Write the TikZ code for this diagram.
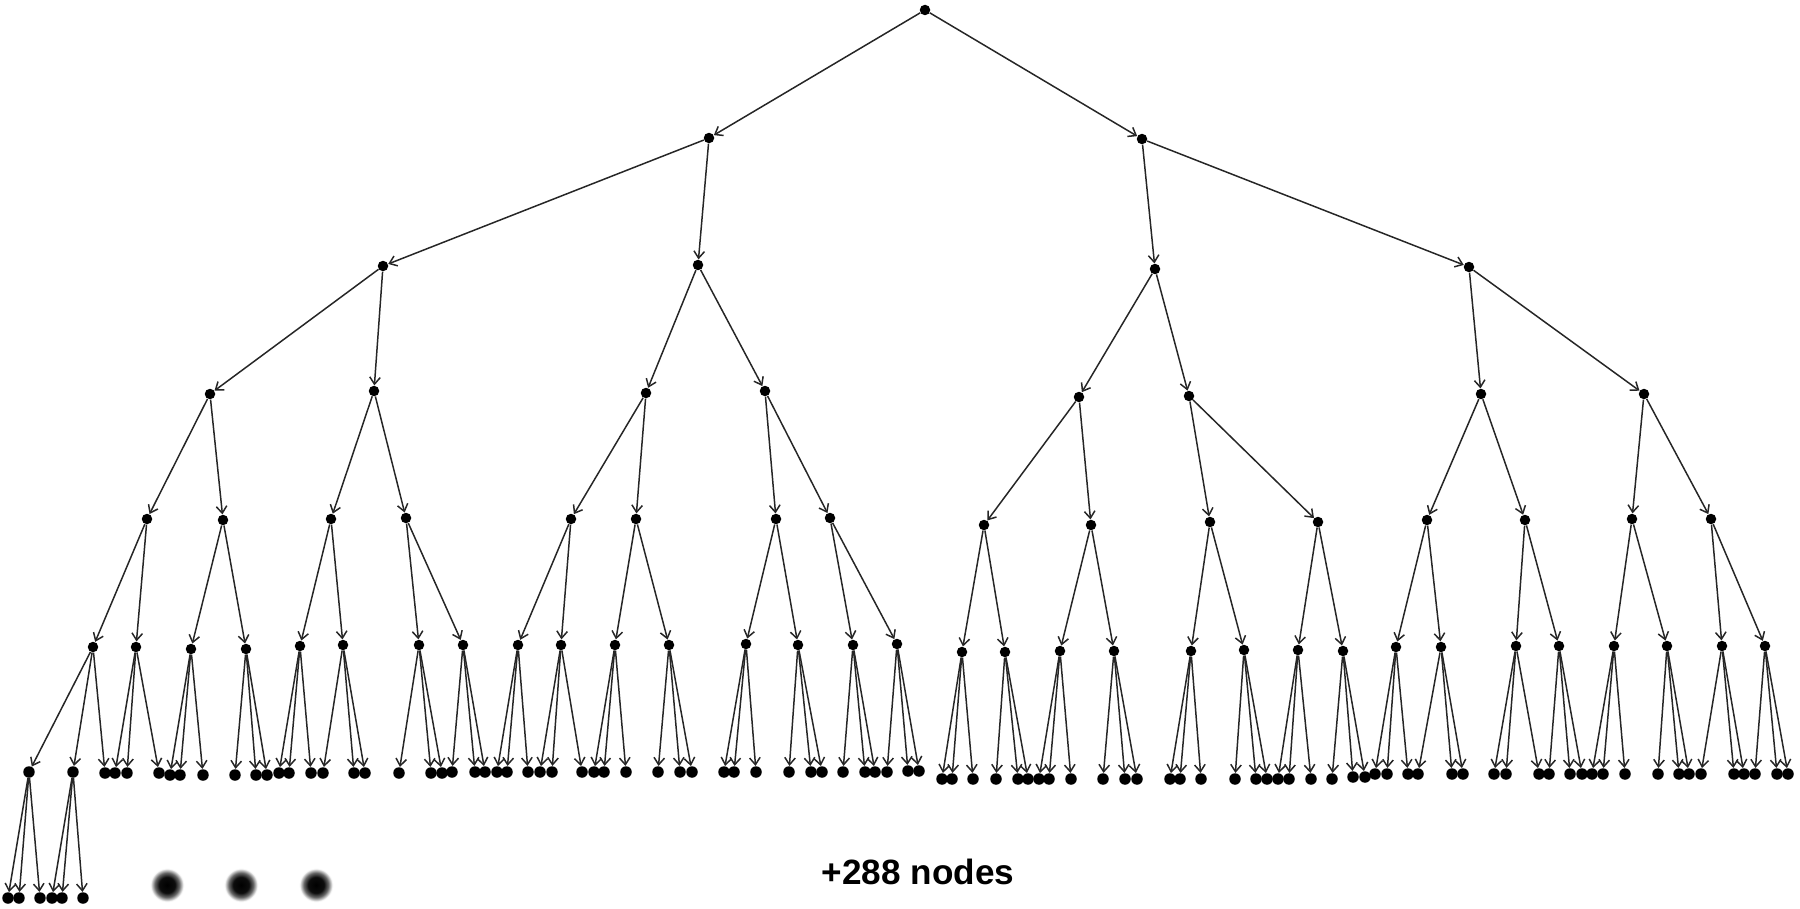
\documentclass[tikz,border=0pt]{standalone}
\usepackage{fontspec}
\setmainfont{Liberation Sans}
\usetikzlibrary{arrows.meta}

\pgfdeclareradialshading{blurball}{\pgfpoint{0bp}{0bp}}{color(0bp)=(black); color(11bp)=(black!95); color(17bp)=(black!60); color(23bp)=(white); color(50bp)=(white)}

\begin{document}
\begin{tikzpicture}[
  x=0.02cm, y=-0.02cm,
  >={Straight Barb[length=4pt,width=6pt]},
  dot/.style={circle, fill=black, inner sep=0pt, minimum size=0.21cm},
  leaf/.style={dot, minimum size=0.23cm},
  blurdot/.style={circle, inner sep=0pt, minimum size=0.72cm, shading=blurball},
  edge/.style={->, line width=0.85pt, black!85},
  countlabel/.style={font=\fontsize{20}{24}\selectfont\bfseries, anchor=base, inner sep=0pt}
]
\useasboundingbox (0,0) rectangle (1800,909);

% Root and first split
\node[dot] (r) at (925,10) {};
\node[dot] (a1) at (709,138) {};
\node[dot] (a2) at (1142,139) {};
\draw[edge] (r) -- (a1);
\draw[edge] (r) -- (a2);

% Level 2
\foreach \x/\y [count=\i] in {383/266, 698/265, 1155/269, 1469/267}{
  \pgfmathtruncatemacro\p{ceil(\i/2)}
  \node[dot] (b\i) at (\x,\y) {};
  \draw[edge] (a\p) -- (b\i);
}

% Level 3
\foreach \x/\y [count=\i] in {210/394, 374/391, 646/393, 765/391, 1079/397, 1189/396, 1481/394, 1644/394}{
  \pgfmathtruncatemacro\p{ceil(\i/2)}
  \node[dot] (c\i) at (\x,\y) {};
  \draw[edge] (b\p) -- (c\i);
}

% Level 4
\foreach \x/\y [count=\i] in {147/519, 223/520, 331/519, 406/518, 571/519, 636/519, 776/519, 830/518,
    984/525, 1091/525, 1210/522, 1318/522, 1427/520, 1525/520, 1632/519, 1711/519}{
  \pgfmathtruncatemacro\p{ceil(\i/2)}
  \node[dot] (d\i) at (\x,\y) {};
  \draw[edge] (c\p) -- (d\i);
}

% Level 5
\foreach \x/\y [count=\i] in {93/647, 136/647, 191/649, 246/649, 300/646, 343/645, 419/645, 463/645,
    518/645, 561/645, 615/645, 669/645, 746/644, 798/645, 853/645, 897/644,
    962/652, 1005/652, 1060/651, 1114/651, 1191/651, 1244/650, 1298/650, 1343/651,
    1396/647, 1441/647, 1516/646, 1559/646, 1614/646, 1667/646, 1722/646, 1765/646}{
  \pgfmathtruncatemacro\p{ceil(\i/2)}
  \node[dot] (e\i) at (\x,\y) {};
  \draw[edge] (d\p) -- (e\i);
}

% Level 6 (three children each)
\foreach \x/\y [count=\i] in {29/772, 73/772, 105/773, 115/773, 127/773, 159/773, 170/775, 180/775, 203/775,
    235/775, 256/775, 267/775, 279/773, 289/773, 311/773, 323/773, 354/773, 365/773,
    399/773, 431/773, 442/773, 452/772, 475/772, 485/772, 497/772, 507/772, 528/772,
    540/772, 552/772, 582/772, 594/772, 604/772, 626/772, 658/772, 680/772, 692/772,
    724/772, 734/772, 756/772, 789/772, 811/772, 822/772, 843/772, 865/772, 875/772,
    887/772, 908/771, 919/771, 942/779, 952/779, 973/779, 996/779, 1018/779, 1028/779,
    1039/779, 1049/779, 1071/779, 1103/779, 1125/779, 1137/779, 1170/779, 1180/779, 1201/779,
    1235/779, 1256/779, 1267/779, 1278/779, 1289/779, 1311/779, 1332/779, 1353/777, 1365/777,
    1375/774, 1387/774, 1408/774, 1418/774, 1452/774, 1463/774, 1494/774, 1506/774, 1539/774,
    1549/774, 1570/774, 1582/774, 1592/774, 1603/774, 1625/774, 1658/774, 1679/774, 1689/774,
    1701/774, 1734/774, 1744/774, 1755/774, 1777/774, 1788/774}{
  \pgfmathtruncatemacro\p{ceil(\i/3)}
  \node[leaf] (f\i) at (\x,\y) {};
  \draw[edge] (e\p) -- (f\i);
}

% Level 7 (only the first two)
\foreach \x/\y [count=\i] in {8/898, 19/898, 40/898, 52/898, 62/898, 83/898}{
  \pgfmathtruncatemacro\p{ceil(\i/3)}
  \node[leaf] (g\i) at (\x,\y) {};
  \draw[edge] (f\p) -- (g\i);
}

% ... and the rest
\node[blurdot] (more1) at (167,885) {};
\node[blurdot] (more2) at (241,885) {};
\node[blurdot] (more3) at (316,885) {};
\node[countlabel] (rest) at (918,884) {+288 nodes};

\end{tikzpicture}
\end{document}
